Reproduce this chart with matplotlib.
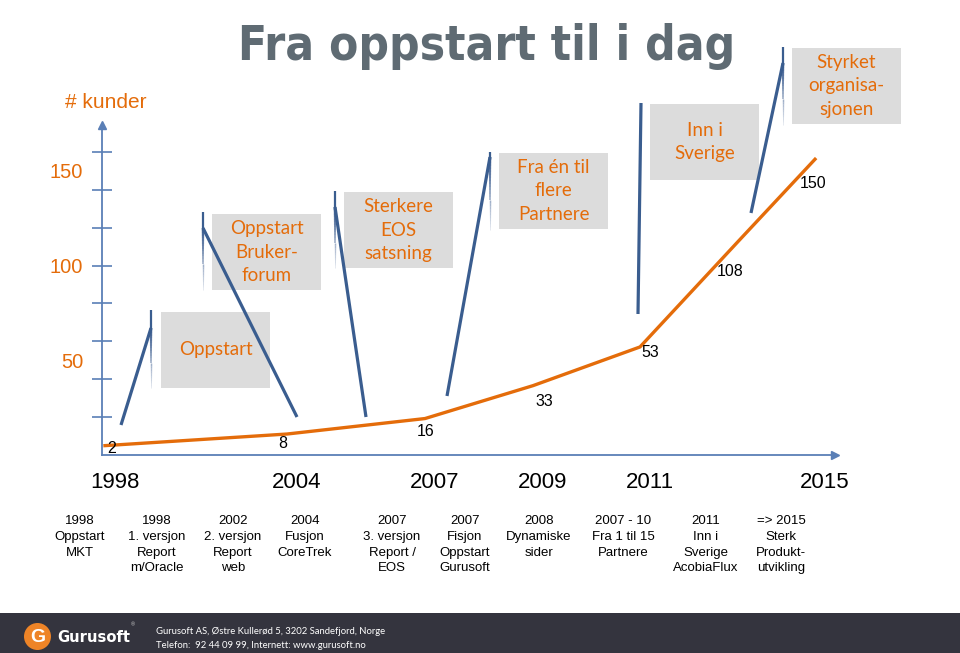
import numpy as np
import matplotlib.pyplot as plt
from matplotlib import font_manager
from matplotlib.patches import Rectangle, Circle
from matplotlib.collections import LineCollection

# data
years = [1998, 2004, 2007, 2009, 2011, 2013, 2015]
customers = [2, 8, 16, 33, 53, 108, 150]
year_ticks = [1998, 2004, 2007, 2009, 2011, 2015]
y_labels = [50, 100, 150]

callout_texts = ["Oppstart", "Oppstart\nBruker-\nforum", "Sterkere\nEOS\nsatsning",
                 "Fra én til\nflere\nPartnere", "Inn i\nSverige", "Styrket\norganisa-\nsjonen"]

milestone_years = ["1998", "1998", "2002", "2004", "2007", "2007", "2008", "2007 - 10", "2011", "=> 2015"]
milestone_notes = ["Oppstart\nMKT", "1. versjon\nReport\nm/Oracle", "2. versjon\nReport\nweb",
                   "Fusjon\nCoreTrek", "3. versjon\nReport /\nEOS", "Fisjon\nOppstart\nGurusoft",
                   "Dynamiske\nsider", "Fra 1 til 15\nPartnere", "Inn i\nSverige\nAcobiaFlux",
                   "Sterk\nProdukt-\nutvikling"]

# layout (pixels of the 960x653 slide)
W, H = 960, 653
knot_years = [1997.9, 1998, 2004, 2007, 2009, 2011, 2013, 2015, 2015.46]
knot_px = [102, 105, 287, 425, 533, 640, 739, 815, 835]
label_offsets = [(7, 3), (-4, 9), (1, 13), (11, 16), (10, 6), (-9, 31), (-2, 24)]
box_corners = [(161, 312), (212, 214), (344, 192), (499, 153), (650, 104), (792, 48)]
box_w, box_h = 109, 76
posts = [(151, 310, 328, 388), (203, 212, 228, 290), (335, 191, 207, 268),
         (490, 152, 157, 230), (783, 47, 63, 125)]
diagonals = [((151, 328), (121, 425)), ((203, 228), (297, 417)), ((335, 207), (366, 417)),
             ((490, 157), (447, 396)), ((641, 103), (638, 314)), ((783, 63), (751, 213))]
milestone_x = [80, 157, 233, 305, 392, 465, 539, 623, 706, 781]

orange = '#E46C0A'
blue = '#3A5D8F'
axis_blue = '#5A7FB6'
arial = ['Liberation Sans', 'DejaVu Sans']
calibri = ['Lato', 'DejaVu Sans']


def condensed_bold():
    # the slide title uses a narrow display face; take whatever condensed bold is around
    best = None
    for f in font_manager.fontManager.ttflist:
        tag = (f.name + ' ' + f.fname).lower()
        narrow = 'narrow' in tag or 'condensed' in tag or str(f.stretch) in ('condensed', 'semi-condensed', 'extra-condensed')
        if narrow and f.weight in ('bold', 700, 'semibold', 600):
            best = f.fname
            if 'condensed' in tag and 'semi' not in tag:
                break
    if best:
        return font_manager.FontProperties(fname=best)
    return font_manager.FontProperties(family='DejaVu Sans', weight='bold')


title_font = condensed_bold()

fig = plt.figure(figsize=(W / 100, H / 100), dpi=100)

bg = fig.add_axes([0, 0, 1, 1])
bg.set_xlim(0, W)
bg.set_ylim(H, 0)
bg.axis('off')

# title
title = bg.text(487, 60, "Fra oppstart til i dag", ha='center', va='baseline',
                fontsize=45, color='#5F6B73', fontproperties=title_font)
title.set_fontsize(45)
bg.text(65, 103, "# kunder", ha='left', va='center', fontsize=15, color=orange, family=arial)

# callout boxes
for (bx, by), txt in zip(box_corners, callout_texts):
    bg.add_patch(Rectangle((bx, by), box_w, box_h, facecolor='#DCDCDC', edgecolor='none', zorder=1))
    bg.text(bx + box_w / 2, by + box_h / 2, txt, ha='center', va='center', fontsize=13.5,
            color=orange, family=calibri, linespacing=1.45, zorder=2)

# callout posts with fading tail
for x, top, joint, bottom in posts:
    bg.plot([x, x], [top, joint], color=blue, lw=1.6, solid_capstyle='butt', zorder=3)
    ys = np.linspace(joint, bottom, 25)
    segs = [[(x, ys[i]), (x, ys[i + 1])] for i in range(len(ys) - 1)]
    fade = np.linspace(1, 0.15, len(segs))
    cols = [(0.23, 0.36, 0.56, a) for a in fade]
    bg.add_collection(LineCollection(segs, colors=cols, linewidths=1.4 * fade + 0.4, zorder=3))

for (x0, y0), (x1, y1) in diagonals:
    bg.plot([x0, x1], [y0, y1], color=blue, lw=2.3, solid_capstyle='butt', zorder=3)

# milestones
for mx, yr, note in zip(milestone_x, milestone_years, milestone_notes):
    bg.text(mx, 515, yr + "\n" + note, ha='center', va='top', fontsize=9.5,
            color='black', family=arial, linespacing=1.42)

# footer
bg.add_patch(Rectangle((0, 613), W, H - 613, facecolor='#34343E', edgecolor='none'))
bg.add_patch(Circle((37.5, 636.5), 13.5, facecolor='#EE8427', edgecolor='none'))
bg.text(37.5, 637, "G", ha='center', va='center', fontsize=14, fontweight='bold',
        color='white', family=arial)
brand = bg.text(57, 637, "Gurusoft", ha='left', va='center', fontsize=16,
                color='white', fontproperties=title_font)
brand.set_fontsize(16)
bg.text(131, 625, "®", ha='left', va='center', fontsize=4, color='#CCCCCC', family=arial)
bg.text(156, 631.5, "Gurusoft AS, Østre Kullerød 5, 3202 Sandefjord, Norge", ha='left',
        va='center', fontsize=6.8, color='white', family=calibri)
bg.text(156, 645, "Telefon:  92 44 09 99, Internett: www.gurusoft.no", ha='left',
        va='center', fontsize=6.8, color='white', family=calibri)

# chart axes
x0_px, y_axis_px, top_px, x1_px = 102, 455, 125, 835
ax = fig.add_axes([x0_px / W, (H - y_axis_px) / H, (x1_px - x0_px) / W, (y_axis_px - top_px) / H])
ax.patch.set_alpha(0)


def fwd(x):
    return np.interp(x, knot_years, knot_px)


def inv(p):
    return np.interp(p, knot_px, knot_years)


ax.set_xscale('function', functions=(fwd, inv))
ax.set_xlim(knot_years[0], knot_years[-1])
ax.set_ylim(0, 174.2)
for s in ['top', 'right']:
    ax.spines[s].set_visible(False)
for s in ['left', 'bottom']:
    ax.spines[s].set_color(axis_blue)
    ax.spines[s].set_linewidth(1.3)
ax.plot(1, 0, '>', color=axis_blue, ms=6, transform=ax.transAxes, clip_on=False)
ax.plot(0, 1, '^', color=axis_blue, ms=6, transform=ax.transAxes, clip_on=False)

ax.set_xticks([])
ax.yaxis.remove_overlapping_locs = False
ax.set_yticks(range(20, 161, 20))
ax.set_yticklabels([])
ax.tick_params(axis='y', which='major', direction='inout', length=13.7, width=1.2, color=axis_blue)
ax.set_yticks(y_labels, minor=True)
ax.set_yticklabels([str(v) for v in y_labels], minor=True)
ax.tick_params(axis='y', which='minor', length=0, pad=13.5, labelsize=14.5, labelcolor=orange)
for lab in ax.get_yticklabels(minor=True):
    lab.set_family(arial)

xt = ax.get_xaxis_transform()
for yr in year_ticks:
    ax.annotate(str(yr), xy=(yr, 0), xycoords=xt, xytext=(7, -20), textcoords='offset points',
                ha='center', va='center', fontsize=16, color='black', family=arial,
                annotation_clip=False)

ax2 = ax.twinx()
ax2.set_ylim(-2.84, 167.7)
ax2.axis('off')
ax2.plot(years, customers, color='#E46C0A', lw=2.4, solid_joinstyle='round')
for yr, val, (dx, dy) in zip(years, customers, label_offsets):
    ax2.annotate(str(val), xy=(yr, val), xytext=(dx * 0.72, -dy * 0.72), textcoords='offset points',
                 ha='center', va='center', fontsize=11.5, color='black', family=arial)

# fit the narrow texts to the widths they take on the slide
fig.canvas.draw()
r = fig.canvas.get_renderer()
for txt, target in [(title, 497), (brand, 73)]:
    w = txt.get_window_extent(r).width
    txt.set_fontsize(txt.get_fontsize() * target / w)

fig.savefig('out.png', dpi=100)
